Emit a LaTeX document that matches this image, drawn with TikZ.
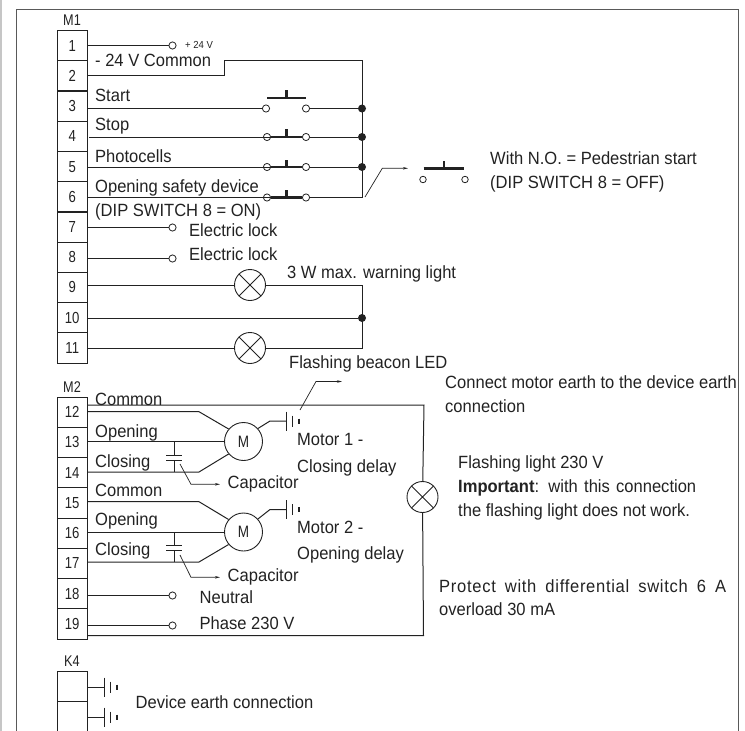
\documentclass[tikz,border=0pt]{standalone}
\usepackage{fontspec}
\setmainfont[FakeStretch=0.935]{Liberation Sans}
\newfontfamily\narrowf[FakeStretch=0.82]{Liberation Sans}
\usetikzlibrary{arrows.meta,calc}
\definecolor{ink}{HTML}{222222}
\tikzset{
  wire/.style={draw=ink,line width=1pt},
  arrowwire/.style={draw=ink,line width=0.7pt,-{Stealth[length=5pt,width=2.5pt]}},
  bar/.style={draw=ink,line width=2.2pt},
  term/.style={draw=ink,line width=0.8pt,outer sep=0pt,minimum width=30.5pt,minimum height=30.2pt,inner sep=0pt,font=\narrowf\fontsize{16}{16}\selectfont,text=ink},
  tag/.style={inner sep=0pt,font=\narrowf\fontsize{15.5}{15.5}\selectfont,text=ink},
  txt/.style={anchor=base west,inner sep=0pt,font=\fontsize{17.7}{17.7}\selectfont,text=ink},
  pin/.style={circle,draw=ink,line width=0.8pt,fill=white,minimum size=7.2pt,inner sep=0pt},
  junction/.style={circle,fill=ink,minimum size=8pt,inner sep=0pt},
  lamp/.style={circle,draw=ink,line width=0.9pt,minimum size=31pt,inner sep=0pt,
    path picture={\draw[ink,line width=0.9pt]
      (path picture bounding box.north west)--(path picture bounding box.south east)
      (path picture bounding box.north east)--(path picture bounding box.south west);}},
  motor/.style={circle,draw=ink,line width=0.9pt,minimum size=38pt,inner sep=0pt,font=\narrowf\fontsize{16.5}{16.5}\selectfont,text=ink},
}
\newcommand{\earthsym}[3]{% name, x of first plate, y
  \coordinate (#1) at (#2,#3);
  \draw[wire] (#2,#3-9.5) -- (#2,#3+9.5);
  \draw[wire] ($(#1)+(5.5,-5.5)$) -- ($(#1)+(5.5,5.5)$);
  \draw[wire,line width=1.1pt] ($(#1)+(12.5,-2.5)$) -- ($(#1)+(12.5,2.5)$);
}
\begin{document}
\begin{tikzpicture}[x=1pt,y=-1pt]
\useasboundingbox (0,0) rectangle (745,731);
\fill[gray!45] (0,0) rectangle (1.5,731);
\node[txt] (cutg) at (79,-3.5) {g};
\draw[draw=black!65,line width=0.9pt] (16.5,731) -- (16.5,9) -- (738.5,9) -- (738.5,731);

% terminal blocks
\node[tag] (m1) at (72,20) {M1};
\foreach \i in {1,...,11}
  \node[term] (t\i) at (72.25,{30.6+30.22*(\i-0.5)}) {\i};
\node[tag] (m2) at (72,387) {M2};
\foreach \i [evaluate=\i as \k using int(\i-11)] in {12,...,19}
  \node[term] (t\i) at (72.25,{397+30.25*(\k-0.5)}) {\i};
\node[tag] (k4) at (72,661) {K4};
\node[term] (ka) at (72.25,686.7) {};
\draw[draw=ink,line width=0.8pt] (ka.south west) -- ++(0,30) (ka.south east) -- ++(0,30);
% heavier dividers
\draw[draw=ink,line width=1.3pt] (t2.south west) -- (t2.south east) (t6.south west) -- (t6.south east)
  (t13.south west) -- (t13.south east) (t17.south west) -- (t17.south east);

% M1 pins, junctions, lamps
\node[pin] (p1) at (172.5,45.5) {};
\node[pin] (p7) at (172.5,227.5) {};
\node[pin] (p8) at (172.5,258.5) {};
\node[pin] (s3l) at (266,108.5) {};
\node[pin] (s3r) at (306,108.5) {};
\node[pin] (s4l) at (267,137) {};
\node[pin] (s4r) at (306,137) {};
\node[pin] (s5l) at (267,167) {};
\node[pin] (s5r) at (306,167) {};
\node[pin] (s6l) at (267,197.5) {};
\node[pin] (s6r) at (306,197.5) {};
\node[junction] (j3) at (362,108.5) {};
\node[junction] (j4) at (362,137) {};
\node[junction] (j5) at (362,167) {};
\node[junction] (j10) at (362,318) {};
\coordinate (c6) at (362,197.5);
\coordinate (c9) at (362,285);
\coordinate (c11) at (362,348);
\node[lamp] (l9) at (250,285) {};
\node[lamp] (l11) at (250,348) {};

% M1 wiring
\draw[wire] (t1.east |- p1) -- (p1);
\draw[wire] (t2.east |- 0,75.5) -- (224.5,75.5) -- (224.5,60.5) -- (362,60.5) -- (c6);
\draw[wire] (t3.east |- s3l) -- (s3l);
\draw[wire] (s3r) -- (j3);
\draw[wire] (89,137) -- (s4l.east);
\draw[wire] (s4r) -- (j4);
\draw[wire] (t5.east |- s5l) -- (s5l.east);
\draw[wire] (s5r) -- (j5);
\draw[wire] (t6.east |- s6l) -- (s6l.east);
\draw[wire] (s6r) -- (c6);
\draw[wire] (t7.east |- p7) -- (p7);
\draw[wire] (t8.east |- p8) -- (p8);
\draw[wire] (t9.east |- l9) -- (l9);
\draw[wire] (l9) -- (c9) -- (c11) -- (l11);
\draw[wire] (t10.east |- j10) -- (j10);
\draw[wire] (t11.east |- l11) -- (l11);

% switch bars
\draw[bar] (267,98) -- (306,98) (286.5,98) -- (286.5,90);
\draw[bar] (s4l.east) -- (s4r.west) (286.5,136.5) -- (286.5,129);
\draw[bar] (s5l.east) -- (s5r.west) (286.5,166) -- (286.5,159.5);
\draw[bar] (s6l.east) -- (s6r.west) (286.5,197) -- (286.5,190);

% N.O. alternative
\node[pin,minimum size=6.5pt] (nol) at (423,179.5) {};
\node[pin,minimum size=6.5pt] (nor) at (465,179.5) {};
\draw[bar] (423.5,168.5) -- (464,168.5) (444,168.5) -- (444,161);
\coordinate (no0) at (365,197);
\coordinate (no1) at (382.3,168.3);
\coordinate (no2) at (408,168.3);
\draw[arrowwire] (no0) -- (no1) -- (no2);

% M2 loop and flashing light
\node[lamp] (lf) at (422.5,497) {};
\coordinate (lt) at (424,405);
\coordinate (lb) at (423.5,635.5);
\draw[wire] (t12.east |- lt) -- (lt) -- (lf);
\draw[wire] (lf) -- (lb) -- (t19.east |- lb);

% motor 1
\node[motor] (m1m) at (243.5,441.5) {M};
\draw[wire] (t12.east |- 0,411.7) -- (199,411.7) -- (m1m.140);
\draw[wire] (t13.east |- m1m) -- (m1m);
\draw[wire] (t14.east |- 0,472) -- (199,472) -- (m1m.220);
\draw[wire] (174,442) -- (174,455) (174,460) -- (174,472);
\draw[wire] (166,455) -- (182,455) (166,460) -- (182,460);
\draw[arrowwire] (180,464) -- (191,484.3) -- (220,484.3);
\earthsym{e1}{286.5}{421}
\draw[wire] (m1m.42) -- (270,421) -- (e1);
\draw[arrowwire] (300,410) -- (316,381.5) -- (342,381.5);

% motor 2
\node[motor] (m2m) at (243.5,532) {M};
\draw[wire] (t15.east |- 0,501.7) -- (199,501.7) -- (m2m.140);
\draw[wire] (t16.east |- m2m) -- (m2m);
\draw[wire] (t17.east |- 0,562) -- (199,562) -- (m2m.220);
\draw[wire] (174,532) -- (174,545.7) (174,550.3) -- (174,562);
\draw[wire] (166,545.7) -- (182,545.7) (166,550.3) -- (182,550.3);
\draw[arrowwire] (180,555) -- (191,577.3) -- (220,577.3);
\earthsym{e2}{286.5}{509.5}
\draw[wire] (m2m.42) -- (270,509.5) -- (e2);

% neutral, phase
\node[pin] (p18) at (172.5,595.5) {};
\node[pin] (p19) at (172.5,625.5) {};
\draw[wire] (t18.east |- p18) -- (p18);
\draw[wire] (t19.east |- p19) -- (p19);

% K4 earths
\earthsym{e3}{104.5}{687}
\earthsym{e4}{104.5}{717}
\draw[wire] (ka.east |- e3) -- (e3);
\draw[wire] (ka.east |- e4) -- (e4);

% texts
\node[txt,font=\fontsize{10.2}{10.2}\selectfont] (t24) at (185,48.8) {+ 24 V};
\node[txt] (a1) at (95,66) {- 24 V Common};
\node[txt] (a2) at (95,101) {Start};
\node[txt] (a3) at (95,130) {Stop};
\node[txt] (a4) at (95,162) {Photocells};
\node[txt] (a5) at (95,192) {Opening safety device};
\node[txt] (a6) at (95,216) {(DIP SWITCH 8 = ON)};
\node[txt] (a7) at (189,236) {Electric lock};
\node[txt] (a8) at (189,260) {Electric lock};
\node[txt] (a9) at (287,278) {3 W max. warning light};
\node[txt] (a10) at (289,368) {Flashing beacon LED};
\node[txt] (a11) at (490,164) {With N.O. = Pedestrian start};
\node[txt] (a12) at (490,188) {(DIP SWITCH 8 = OFF)};
\node[txt] (b1) at (95,405) {Common};
\node[txt] (b2) at (95,437) {Opening};
\node[txt] (b3) at (95,467) {Closing};
\node[txt] (b4) at (227.5,488) {Capacitor};
\node[txt] (b5) at (297,445) {Motor 1 -};
\node[txt] (b6) at (297,472) {Closing delay};
\node[txt] (b7) at (95,496) {Common};
\node[txt] (b8) at (95,525) {Opening};
\node[txt] (b9) at (95,555) {Closing};
\node[txt] (b10) at (227.5,581) {Capacitor};
\node[txt] (b11) at (297,533) {Motor 2 -};
\node[txt] (b12) at (297,559) {Opening delay};
\node[txt] (b13) at (199.5,603) {Neutral};
\node[txt] (b14) at (199.5,629) {Phase 230 V};
\node[txt] (c1) at (445,388) {Connect motor earth to the device earth};
\node[txt] (c2) at (445,412) {connection};
\node[txt] (c3) at (458,468) {Flashing light 230 V};
\node[txt] (c4) at (458,492) {\hbox to 238pt{\textbf{Important}: with this connection}};
\node[txt] (c5) at (458,516) {the flashing light does not work.};
\node[txt] (c6t) at (439,592) {\hbox to 287pt{\addfontfeature{LetterSpace=4}Protect with differential switch 6 A}};
\node[txt] (c7) at (439,615) {overload 30 mA};
\node[txt] (d1) at (135.5,708) {Device earth connection};
\end{tikzpicture}
\end{document}
